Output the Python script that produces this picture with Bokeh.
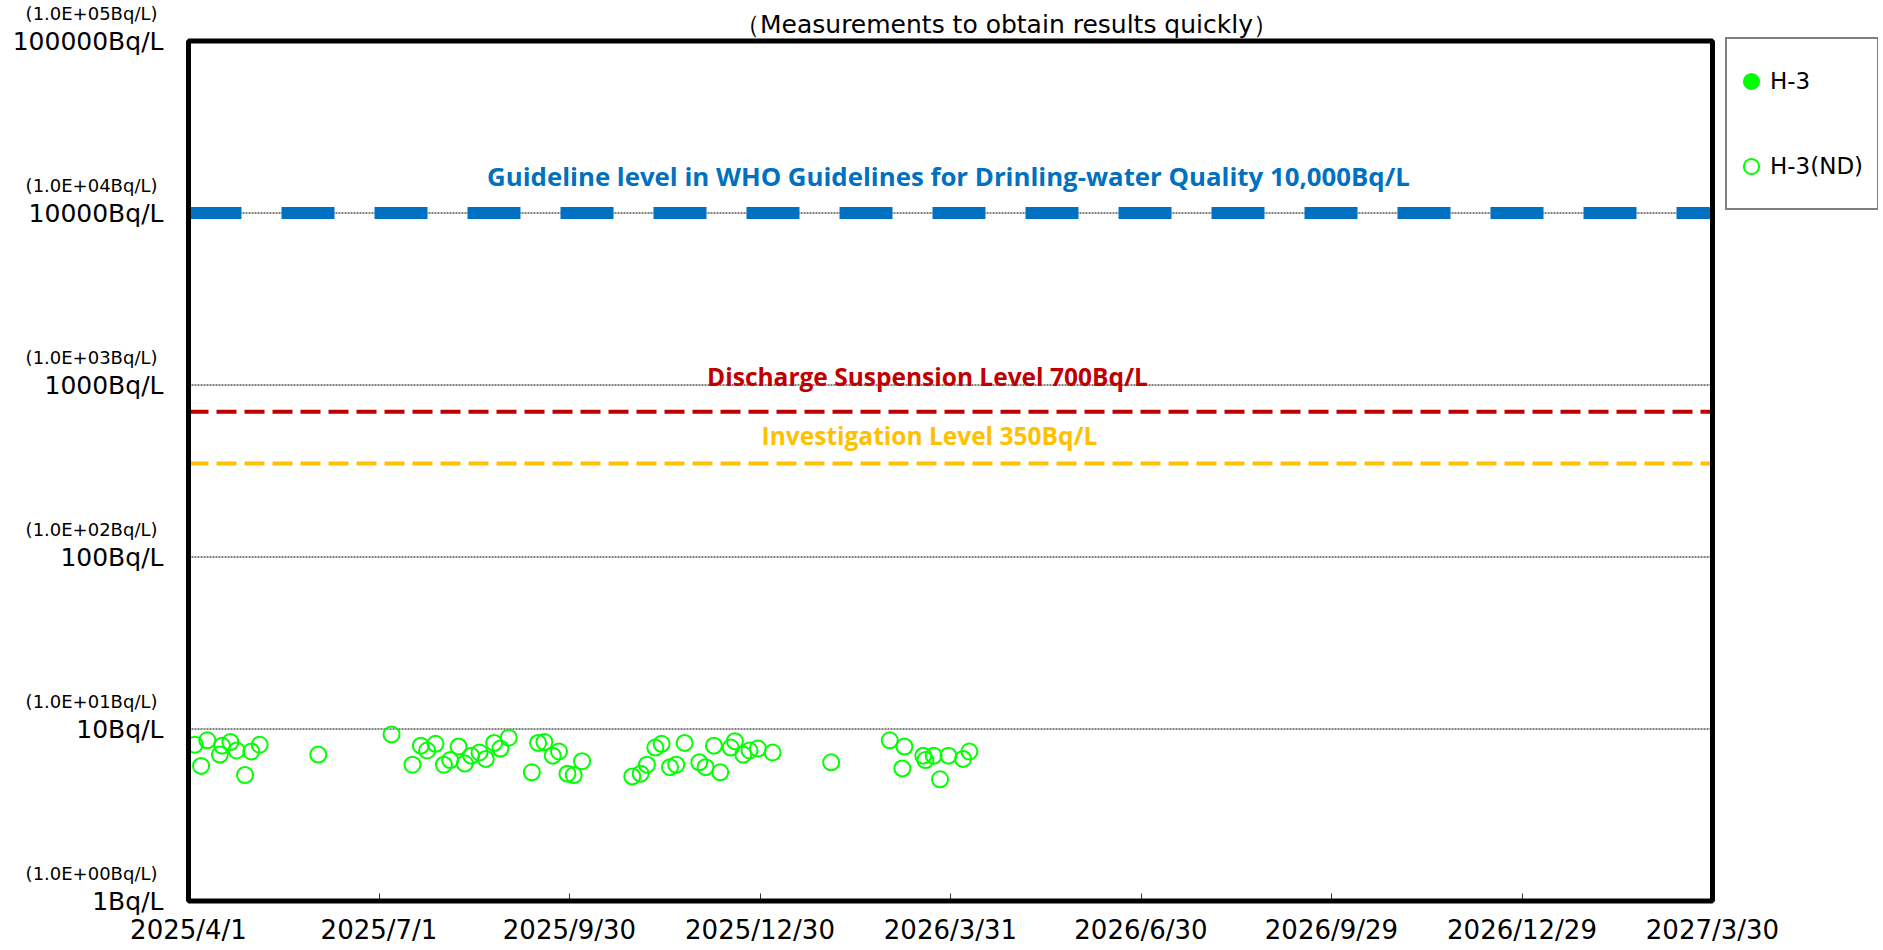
import math
import pandas as pd
from bokeh.plotting import figure
from bokeh.models import (Range1d, FixedTicker, Label, Legend, LegendItem,
                          ColumnDataSource, BoxAnnotation)
from bokeh.embed import file_html
from bokeh.resources import INLINE

# ---------------- data ----------------
nd_dates = ["2025-04-04", "2025-04-07", "2025-04-10", "2025-04-16", "2025-04-17",
            "2025-04-21", "2025-04-24", "2025-04-28", "2025-05-01", "2025-05-05",
            "2025-06-02", "2025-07-07", "2025-07-17", "2025-07-21", "2025-07-24",
            "2025-07-28", "2025-08-01", "2025-08-04", "2025-08-08", "2025-08-11",
            "2025-08-14", "2025-08-18", "2025-08-21", "2025-08-25", "2025-08-28",
            "2025-09-01", "2025-09-12", "2025-09-15", "2025-09-18", "2025-09-22",
            "2025-09-25", "2025-09-29", "2025-10-02", "2025-10-06", "2025-10-30",
            "2025-11-03", "2025-11-06", "2025-11-10", "2025-11-13", "2025-11-17",
            "2025-11-20", "2025-11-24", "2025-12-01", "2025-12-04", "2025-12-08",
            "2025-12-11", "2025-12-16", "2025-12-18", "2025-12-22", "2025-12-25",
            "2025-12-29", "2026-01-05", "2026-02-02", "2026-03-02", "2026-03-08",
            "2026-03-09", "2026-03-18", "2026-03-19", "2026-03-23", "2026-03-26",
            "2026-03-30", "2026-04-06", "2026-04-09"]
nd_values = [8.1, 6.1, 8.6, 7.1, 8.0,
             8.4, 7.5, 5.4, 7.4, 8.1,
             7.1, 9.3, 6.2, 8.0, 7.5,
             8.2, 6.2, 6.6, 7.9, 6.3,
             7.0, 7.3, 6.7, 8.3, 7.7,
             8.9, 5.6, 8.3, 8.4, 7.0,
             7.4, 5.5, 5.4, 6.5, 5.3,
             5.5, 6.2, 7.8, 8.2, 6.0,
             6.2, 8.3, 6.4, 6.0, 8.0,
             5.6, 7.8, 8.5, 7.1, 7.5,
             7.7, 7.3, 6.4, 8.6, 5.9,
             7.9, 7.0, 6.6, 7.0, 5.1,
             7.0, 6.7, 7.4]
det_dates = []      # no detected H-3 values in the period
det_values = []

x_tick_dates = ["2025-04-01", "2025-07-01", "2025-09-30", "2025-12-30", "2026-03-31",
                "2026-06-30", "2026-09-29", "2026-12-29", "2027-03-30"]
x_tick_labels = ["2025/4/1", "2025/7/1", "2025/9/30", "2025/12/30", "2026/3/31",
                 "2026/6/30", "2026/9/29", "2026/12/29", "2027/3/30"]
y_tick_values = [1, 10, 100, 1000, 10000, 100000]
y_tick_labels = ["1Bq/L", "10Bq/L", "100Bq/L", "1000Bq/L", "10000Bq/L", "100000Bq/L"]
y_tick_sublabels = ["(1.0E+00Bq/L)", "(1.0E+01Bq/L)", "(1.0E+02Bq/L)",
                    "(1.0E+03Bq/L)", "(1.0E+04Bq/L)", "(1.0E+05Bq/L)"]

level_values = [10000, 700, 350]
level_labels = ["Guideline level in WHO Guidelines for Drinling-water Quality 10,000Bq/L",
                "Discharge Suspension Level 700Bq/L",
                "Investigation Level 350Bq/L"]
level_colors = ["#0070C0", "#C00000", "#FFC000"]

series_labels = ["H-3", "H-3(ND)"]
subtitle = "（Measurements to obtain results quickly）"


def ms(s):
    return int(pd.Timestamp(s).value // 10**6)


# ---------------- layout (canvas pixels) ----------------
W, H = 1878, 946
BOX_L, BOX_R, BOX_T, BOX_B = 188, 1712, 40.5, 900.5
FONT = "DejaVu Sans"

x0, x1 = ms(x_tick_dates[0]), ms(x_tick_dates[-1])
ms_per_px = (x1 - x0) / (BOX_R - BOX_L)
ylo, yhi = math.log10(y_tick_values[0]), math.log10(y_tick_values[-1])
dec_per_px = (yhi - ylo) / (BOX_B - BOX_T)

p = figure(width=W, height=H, x_axis_type="datetime", y_axis_type="log",
           x_range=Range1d(x0 - BOX_L * ms_per_px, x1 + (W - BOX_R) * ms_per_px),
           y_range=Range1d(10 ** (ylo - (H - BOX_B) * dec_per_px),
                           10 ** (yhi + BOX_T * dec_per_px)),
           output_backend="svg", toolbar_location=None)
p.min_border = 0
p.min_border_left = p.min_border_right = p.min_border_top = p.min_border_bottom = 0
p.background_fill_color = "white"
p.border_fill_color = "white"
p.outline_line_color = None
p.xgrid.grid_line_color = None
p.ygrid.grid_line_color = None

# x axis, fixed at the bottom of the plot box
xt = [ms(d) for d in x_tick_dates]
p.xaxis.fixed_location = y_tick_values[0]
p.xaxis.ticker = FixedTicker(ticks=xt)
p.xaxis.major_label_overrides = {t: lab for t, lab in zip(xt, x_tick_labels)}
p.xaxis.major_label_text_font = FONT
p.xaxis.major_label_text_font_size = "26px"
p.xaxis.major_label_text_color = "black"
p.xaxis.major_label_standoff = 14
p.xaxis.axis_line_color = None
p.xaxis.major_tick_in = 8
p.xaxis.major_tick_out = 0
p.xaxis.major_tick_line_color = "#333333"
p.xaxis.major_tick_line_width = 1
p.xaxis.minor_tick_line_color = None

# y axis, fixed at the left of the plot box
p.yaxis.fixed_location = x0
p.yaxis.ticker = FixedTicker(ticks=y_tick_values)
p.yaxis.major_label_overrides = {v: lab for v, lab in zip(y_tick_values, y_tick_labels)}
p.yaxis.major_label_text_font = FONT
p.yaxis.major_label_text_font_size = "25px"
p.yaxis.major_label_text_color = "black"
p.yaxis.major_label_standoff = 25
p.yaxis.major_tick_in = 0
p.yaxis.major_tick_out = 0
p.yaxis.axis_line_color = None
p.yaxis.major_tick_line_color = None
p.yaxis.minor_tick_line_color = None

# small scientific labels above each y tick label
for v, s in zip(y_tick_values, y_tick_sublabels):
    p.add_layout(Label(x=x0, y=v, x_offset=-31, y_offset=28,
                       text=s, text_align="right", text_baseline="alphabetic",
                       text_font=FONT, text_font_size="18px", text_color="black"))

# dotted horizontal grid lines inside the plot box
grid_vals = y_tick_values[1:-1]
p.segment(x0=[x0] * len(grid_vals), x1=[x1] * len(grid_vals), y0=grid_vals, y1=grid_vals,
          line_color="black", line_width=1, line_dash="2 1")

# reference levels
level_widths = [12, 4, 4]
level_dashes = ["53 40", "20 8", "20 8"]
label_x = [948, 927, 929]
label_dy = [37, 35, 28]
label_sizes = ["25.8px", "24.5px", "24.5px"]
for v, lab, c, w, d, lx, dy, fs in zip(level_values, level_labels, level_colors,
                                       level_widths, level_dashes, label_x, label_dy,
                                       label_sizes):
    p.segment(x0=[x0], x1=[x1], y0=[v], y1=[v], line_color=c, line_width=w,
              line_dash=d, line_cap="butt")
    p.add_layout(Label(x=lx, x_units="screen", y=v, y_units="data", y_offset=dy,
                       text=lab, text_align="center", text_baseline="middle",
                       text_font="Open Sans", text_font_style="bold",
                       text_font_size=fs, text_color=c))

# data
src_nd = ColumnDataSource(dict(x=pd.to_datetime(nd_dates), y=nd_values))
if det_values:
    src_det = ColumnDataSource(dict(x=pd.to_datetime(det_dates), y=det_values))
else:
    # placeholder with no drawable point, so the legend still shows the marker
    src_det = ColumnDataSource(dict(x=[x0], y=[float("nan")]))
r_det = p.scatter("x", "y", source=src_det, marker="circle", size=16,
                  fill_color="#00FF00", line_color="#00FF00", line_width=2)
r_nd = p.scatter("x", "y", source=src_nd, marker="circle", size=16,
                 fill_color=None, line_color="#00FF00", line_width=2)

# thick plot box
p.add_layout(BoxAnnotation(left=x0, right=x1, bottom=y_tick_values[0], top=y_tick_values[-1],
                           fill_color=None, fill_alpha=0, line_color="black",
                           line_width=5, line_alpha=1))

legend = Legend(items=[LegendItem(label=series_labels[0], renderers=[r_det]),
                       LegendItem(label=series_labels[1], renderers=[r_nd])],
                location=(1725, H - 210), orientation="vertical",
                padding=5, spacing=11, glyph_width=38, glyph_height=74,
                label_standoff=0, label_width=102,
                label_text_font=FONT, label_text_font_size="23px",
                label_text_color="black",
                border_line_color="black", border_line_width=2,
                background_fill_color="white", background_fill_alpha=1.0)
p.add_layout(legend, "center")

# subtitle (partly cut off at the top in the original)
p.add_layout(Label(x=1006, x_units="screen", y=H - 24, y_units="screen",
                   text=subtitle, text_align="center", text_baseline="alphabetic",
                   text_font=FONT, text_font_size="25px", text_color="black"))

open("out.html", "w").write(file_html(p, INLINE))
